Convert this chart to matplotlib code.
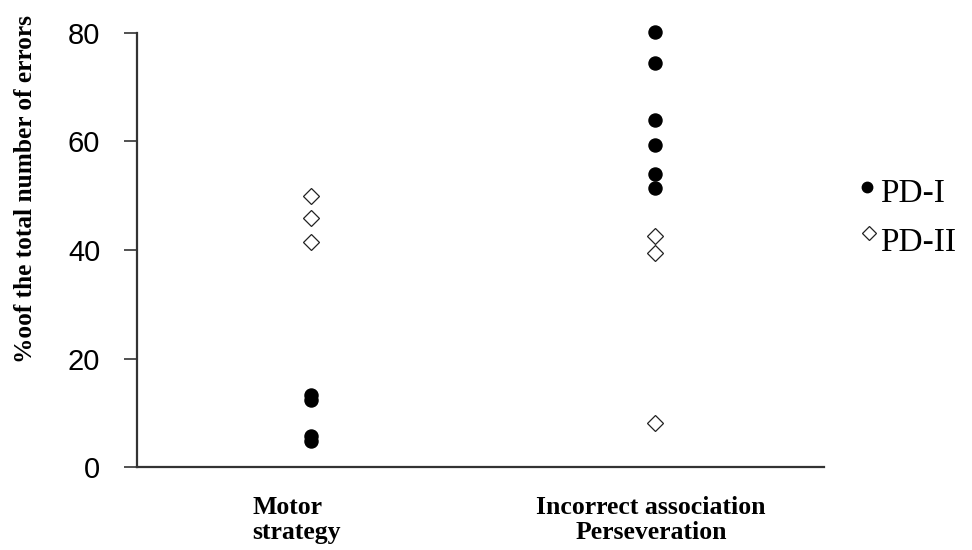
import matplotlib
matplotlib.use("Agg")
import matplotlib.pyplot as plt
from matplotlib.lines import Line2D
import numpy as np

categories = ["Motor\nstrategy", "Incorrect association\nPerseveration"]
pd1_motor = [13.3, 12.3, 5.7, 4.8]
pd1_incorrect = [80.2, 74.4, 64.0, 59.4, 54.1, 51.4]
pd2_motor = [50.0, 45.9, 41.5]
pd2_incorrect = [42.5, 39.5, 8.2]
yticks = [0, 20, 40, 60, 80]

fig = plt.figure(figsize=(9.72, 5.5), dpi=100)
ax = fig.add_axes([137/972, 1-467/550, (824-137)/972, (467-33)/550])

ax.plot([0]*len(pd1_motor), pd1_motor, 'o', color='black', markersize=9.4,
        linestyle='none', clip_on=False, zorder=3)
ax.plot([1]*len(pd1_incorrect), pd1_incorrect, 'o', color='black', markersize=9.4,
        linestyle='none', clip_on=False, zorder=3)
ax.plot([0]*len(pd2_motor), pd2_motor, marker='D', markerfacecolor='white',
        markeredgecolor='#222222', markeredgewidth=0.9, markersize=8.5,
        linestyle='none', clip_on=False, zorder=3)
ax.plot([1]*len(pd2_incorrect), pd2_incorrect, marker='D', markerfacecolor='none',
        markeredgecolor='#222222', markeredgewidth=0.9, markersize=8.5,
        linestyle='none', clip_on=False, zorder=3)

ax.set_xlim(-174/344, 1 + 169/344)
ax.set_ylim(0, 80)
ax.spines['top'].set_visible(False)
ax.spines['right'].set_visible(False)
for s in ['left', 'bottom']:
    ax.spines[s].set_linewidth(1.6)
    ax.spines[s].set_color('#333333')

ax.set_yticks(yticks)
ax.set_yticklabels([str(v) for v in yticks], fontfamily='Liberation Sans', fontsize=21)
ax.tick_params(axis='y', direction='out', length=9.4, width=1.2, pad=17, color='#333333')
ax.set_xticks([0, 1])
ax.set_xticklabels([])
ax.tick_params(axis='x', length=0)

# category labels
ax.annotate(categories[0], xy=(0, 0), xycoords=('data', 'axes fraction'),
            xytext=(-59*0.72, -29*0.72), textcoords='offset points',
            ha='left', va='top', multialignment='left',
            fontfamily='Liberation Serif', fontweight='bold', fontsize=18.5, linespacing=1.12)
ax.annotate(categories[1], xy=(1, 0), xycoords=('data', 'axes fraction'),
            xytext=(-4*0.72, -29*0.72), textcoords='offset points',
            ha='center', va='top', multialignment='center',
            fontfamily='Liberation Serif', fontweight='bold', fontsize=18.5, linespacing=1.12)

fig.text(26/972, 1-189/550, "%oof the total number of errors", rotation=90,
         ha='center', va='center', fontfamily='Liberation Serif', fontweight='bold', fontsize=18.3)

# legend
fig.add_artist(Line2D([867/972], [1-187/550], marker='o', color='black', markersize=7.5,
                      linestyle='none', transform=fig.transFigure))
fig.add_artist(Line2D([869/972], [1-233/550], marker='D', markerfacecolor='white',
                      markeredgecolor='#222222', markeredgewidth=0.9, markersize=7,
                      linestyle='none', transform=fig.transFigure))
fig.text(880/972, 1-194/550, "PD-I", ha='left', va='center',
         fontfamily='Liberation Serif', fontsize=24)
fig.text(880/972, 1-243/550, "PD-II", ha='left', va='center',
         fontfamily='Liberation Serif', fontsize=24)

fig.savefig("out.png", dpi=100)
